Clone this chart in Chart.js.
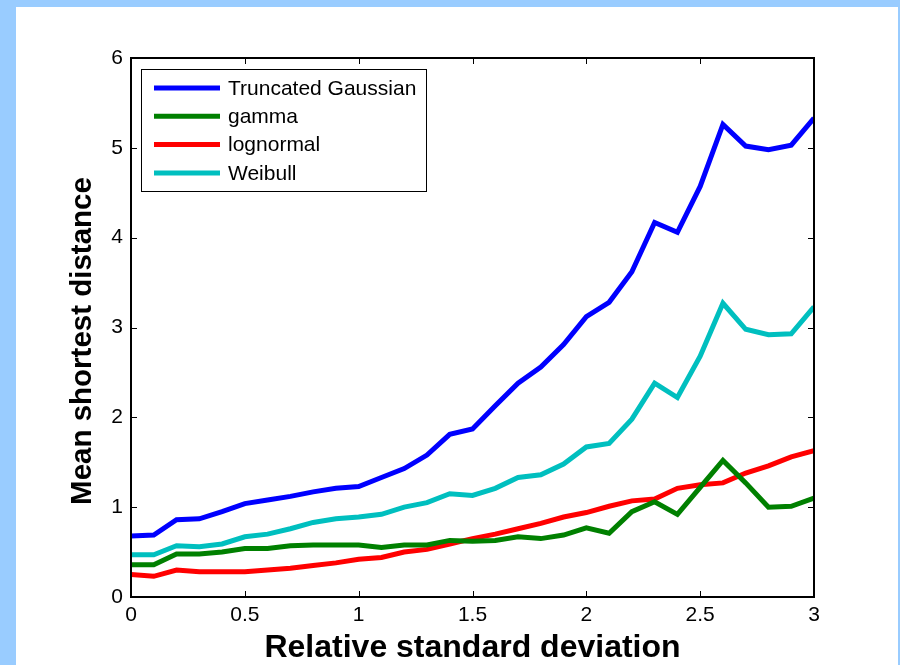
<!DOCTYPE html>
<html>
<head>
<meta charset="utf-8">
<script src="https://cdn.jsdelivr.net/npm/chart.js@4.4.0/dist/chart.umd.min.js"></script>
<style>
  html, body { margin: 0; padding: 0; background: #99ccff; }
  #frame { position: absolute; left: 16px; top: 7px; width: 882px; height: 658px; background: #ffffff; }
  #wrap { position: absolute; left: 0; top: 0; width: 900px; height: 665px; }
</style>
</head>
<body>
<div id="frame"></div>
<div id="wrap"><canvas id="chart" width="900" height="665"></canvas></div>
<script>
// relative standard deviation (x)
const relStd = [0, 0.1, 0.2, 0.3, 0.4, 0.5, 0.6, 0.7, 0.8, 0.9, 1.0,
  1.1, 1.2, 1.3, 1.4, 1.5, 1.6, 1.7, 1.8, 1.9, 2.0,
  2.1, 2.2, 2.3, 2.4, 2.5, 2.6, 2.7, 2.8, 2.9, 3.0];

// mean shortest distance for each distribution
const truncGauss = [0.68, 0.69, 0.86, 0.87, 0.95, 1.04, 1.08, 1.12, 1.17, 1.21, 1.23,
  1.33, 1.43, 1.58, 1.81, 1.87, 2.13, 2.38, 2.56, 2.81, 3.12,
  3.28, 3.62, 4.17, 4.06, 4.57, 5.26, 5.02, 4.98, 5.03, 5.33];
const gamma = [0.36, 0.36, 0.48, 0.48, 0.50, 0.54, 0.54, 0.57, 0.58, 0.58, 0.58,
  0.55, 0.58, 0.58, 0.63, 0.62, 0.63, 0.67, 0.65, 0.69, 0.77,
  0.71, 0.95, 1.06, 0.92, 1.22, 1.52, 1.27, 1.00, 1.01, 1.10];
const lognormal = [0.25, 0.23, 0.30, 0.28, 0.28, 0.28, 0.30, 0.32, 0.35, 0.38, 0.42,
  0.44, 0.50, 0.53, 0.59, 0.65, 0.70, 0.76, 0.82, 0.89, 0.94,
  1.01, 1.07, 1.09, 1.21, 1.25, 1.27, 1.38, 1.46, 1.56, 1.63];
const weibull = [0.47, 0.47, 0.57, 0.56, 0.59, 0.67, 0.70, 0.76, 0.83, 0.87, 0.89,
  0.92, 1.00, 1.05, 1.15, 1.13, 1.21, 1.33, 1.36, 1.48, 1.67,
  1.71, 1.98, 2.38, 2.22, 2.68, 3.27, 2.98, 2.92, 2.93, 3.23];

const seriesNames = ["Truncated Gaussian", "gamma", "lognormal", "Weibull"];
const seriesColors = ["#0000ff", "#008000", "#ff0000", "#00bfbf"];
const xTicks = [0, 0.5, 1, 1.5, 2, 2.5, 3];
const yTicks = [0, 1, 2, 3, 4, 5, 6];

const FONT = "'Liberation Sans', Arial, Helvetica, sans-serif";

const toPoints = (ys) => relStd.map((x, i) => ({ x: x, y: ys[i] }));

// box, inward ticks, legend and axis titles in the matlab style
const matlabAxes = {
  id: "matlabAxes",
  afterDraw(chart) {
    const ctx = chart.ctx;
    const a = chart.chartArea;
    const xs = chart.scales.x;
    const ys = chart.scales.y;
    ctx.save();
    ctx.strokeStyle = "#000";
    ctx.lineWidth = 1;
    const tl = 6;
    for (const t of xTicks) {
      const px = Math.round(xs.getPixelForValue(t)) + 0.5;
      ctx.beginPath();
      ctx.moveTo(px, a.bottom); ctx.lineTo(px, a.bottom - tl);
      ctx.moveTo(px, a.top); ctx.lineTo(px, a.top + tl);
      ctx.stroke();
    }
    for (const t of yTicks) {
      const py = Math.round(ys.getPixelForValue(t)) + 0.5;
      ctx.beginPath();
      ctx.moveTo(a.left, py); ctx.lineTo(a.left + tl, py);
      ctx.moveTo(a.right, py); ctx.lineTo(a.right - tl, py);
      ctx.stroke();
    }
    ctx.lineWidth = 2;
    ctx.strokeRect(a.left, a.top, a.right - a.left, a.bottom - a.top);

    // legend
    const lx = 141, ly = 69, lw = 285, lh = 122;
    ctx.fillStyle = "#fff";
    ctx.fillRect(lx, ly, lw, lh);
    ctx.lineWidth = 1;
    ctx.strokeRect(lx + 0.5, ly + 0.5, lw, lh);
    ctx.font = "21px " + FONT;
    ctx.textBaseline = "middle";
    ctx.textAlign = "left";
    chart.data.datasets.forEach((ds, i) => {
      const ry = 88 + i * 28.3;
      ctx.strokeStyle = ds.borderColor;
      ctx.lineWidth = 5;
      ctx.beginPath();
      ctx.moveTo(154, ry); ctx.lineTo(220, ry);
      ctx.stroke();
      ctx.fillStyle = "#000";
      ctx.fillText(ds.label, 228, ry + 1);
    });

    // axis titles
    ctx.fillStyle = "#000";
    ctx.font = "bold 32px " + FONT;
    ctx.textAlign = "center";
    ctx.textBaseline = "alphabetic";
    ctx.fillText("Relative standard deviation", (a.left + a.right) / 2, 657);
    ctx.translate(91, 341);
    ctx.rotate(-Math.PI / 2);
    ctx.font = "bold 29.5px " + FONT;
    ctx.fillText("Mean shortest distance", 0, 0);
    ctx.restore();
  }
};

new Chart(document.getElementById("chart"), {
  type: "line",
  data: {
    datasets: [truncGauss, gamma, lognormal, weibull].map((ys, i) => ({
      label: seriesNames[i],
      data: toPoints(ys),
      borderColor: seriesColors[i],
      backgroundColor: seriesColors[i],
      borderWidth: 5,
      pointRadius: 0,
      tension: 0,
      fill: false
    }))
  },
  options: {
    responsive: false,
    animation: false,
    layout: { padding: { left: 0, top: 58, right: 86, bottom: 0 } },
    plugins: {
      legend: { display: false },
      tooltip: { enabled: false }
    },
    scales: {
      x: {
        type: "linear",
        min: 0,
        max: 3,
        afterFit: (s) => { s.height = 68; },
        afterBuildTicks: (s) => { s.ticks = xTicks.map(v => ({ value: v })); },
        grid: { display: false, drawTicks: false },
        border: { display: false },
        ticks: {
          color: "#000",
          padding: 6,
          maxRotation: 0,
          callback: (v) => String(v),
          font: { family: FONT, size: 21 }
        }
      },
      y: {
        min: 0,
        max: 6,
        afterFit: (s) => { s.width = 131; },
        afterBuildTicks: (s) => { s.ticks = yTicks.map(v => ({ value: v })); },
        grid: { display: false, drawTicks: false },
        border: { display: false },
        ticks: {
          color: "#000",
          padding: 8,
          callback: (v) => String(v),
          font: { family: FONT, size: 21 }
        }
      }
    }
  },
  plugins: [matlabAxes]
});
</script>
</body>
</html>
